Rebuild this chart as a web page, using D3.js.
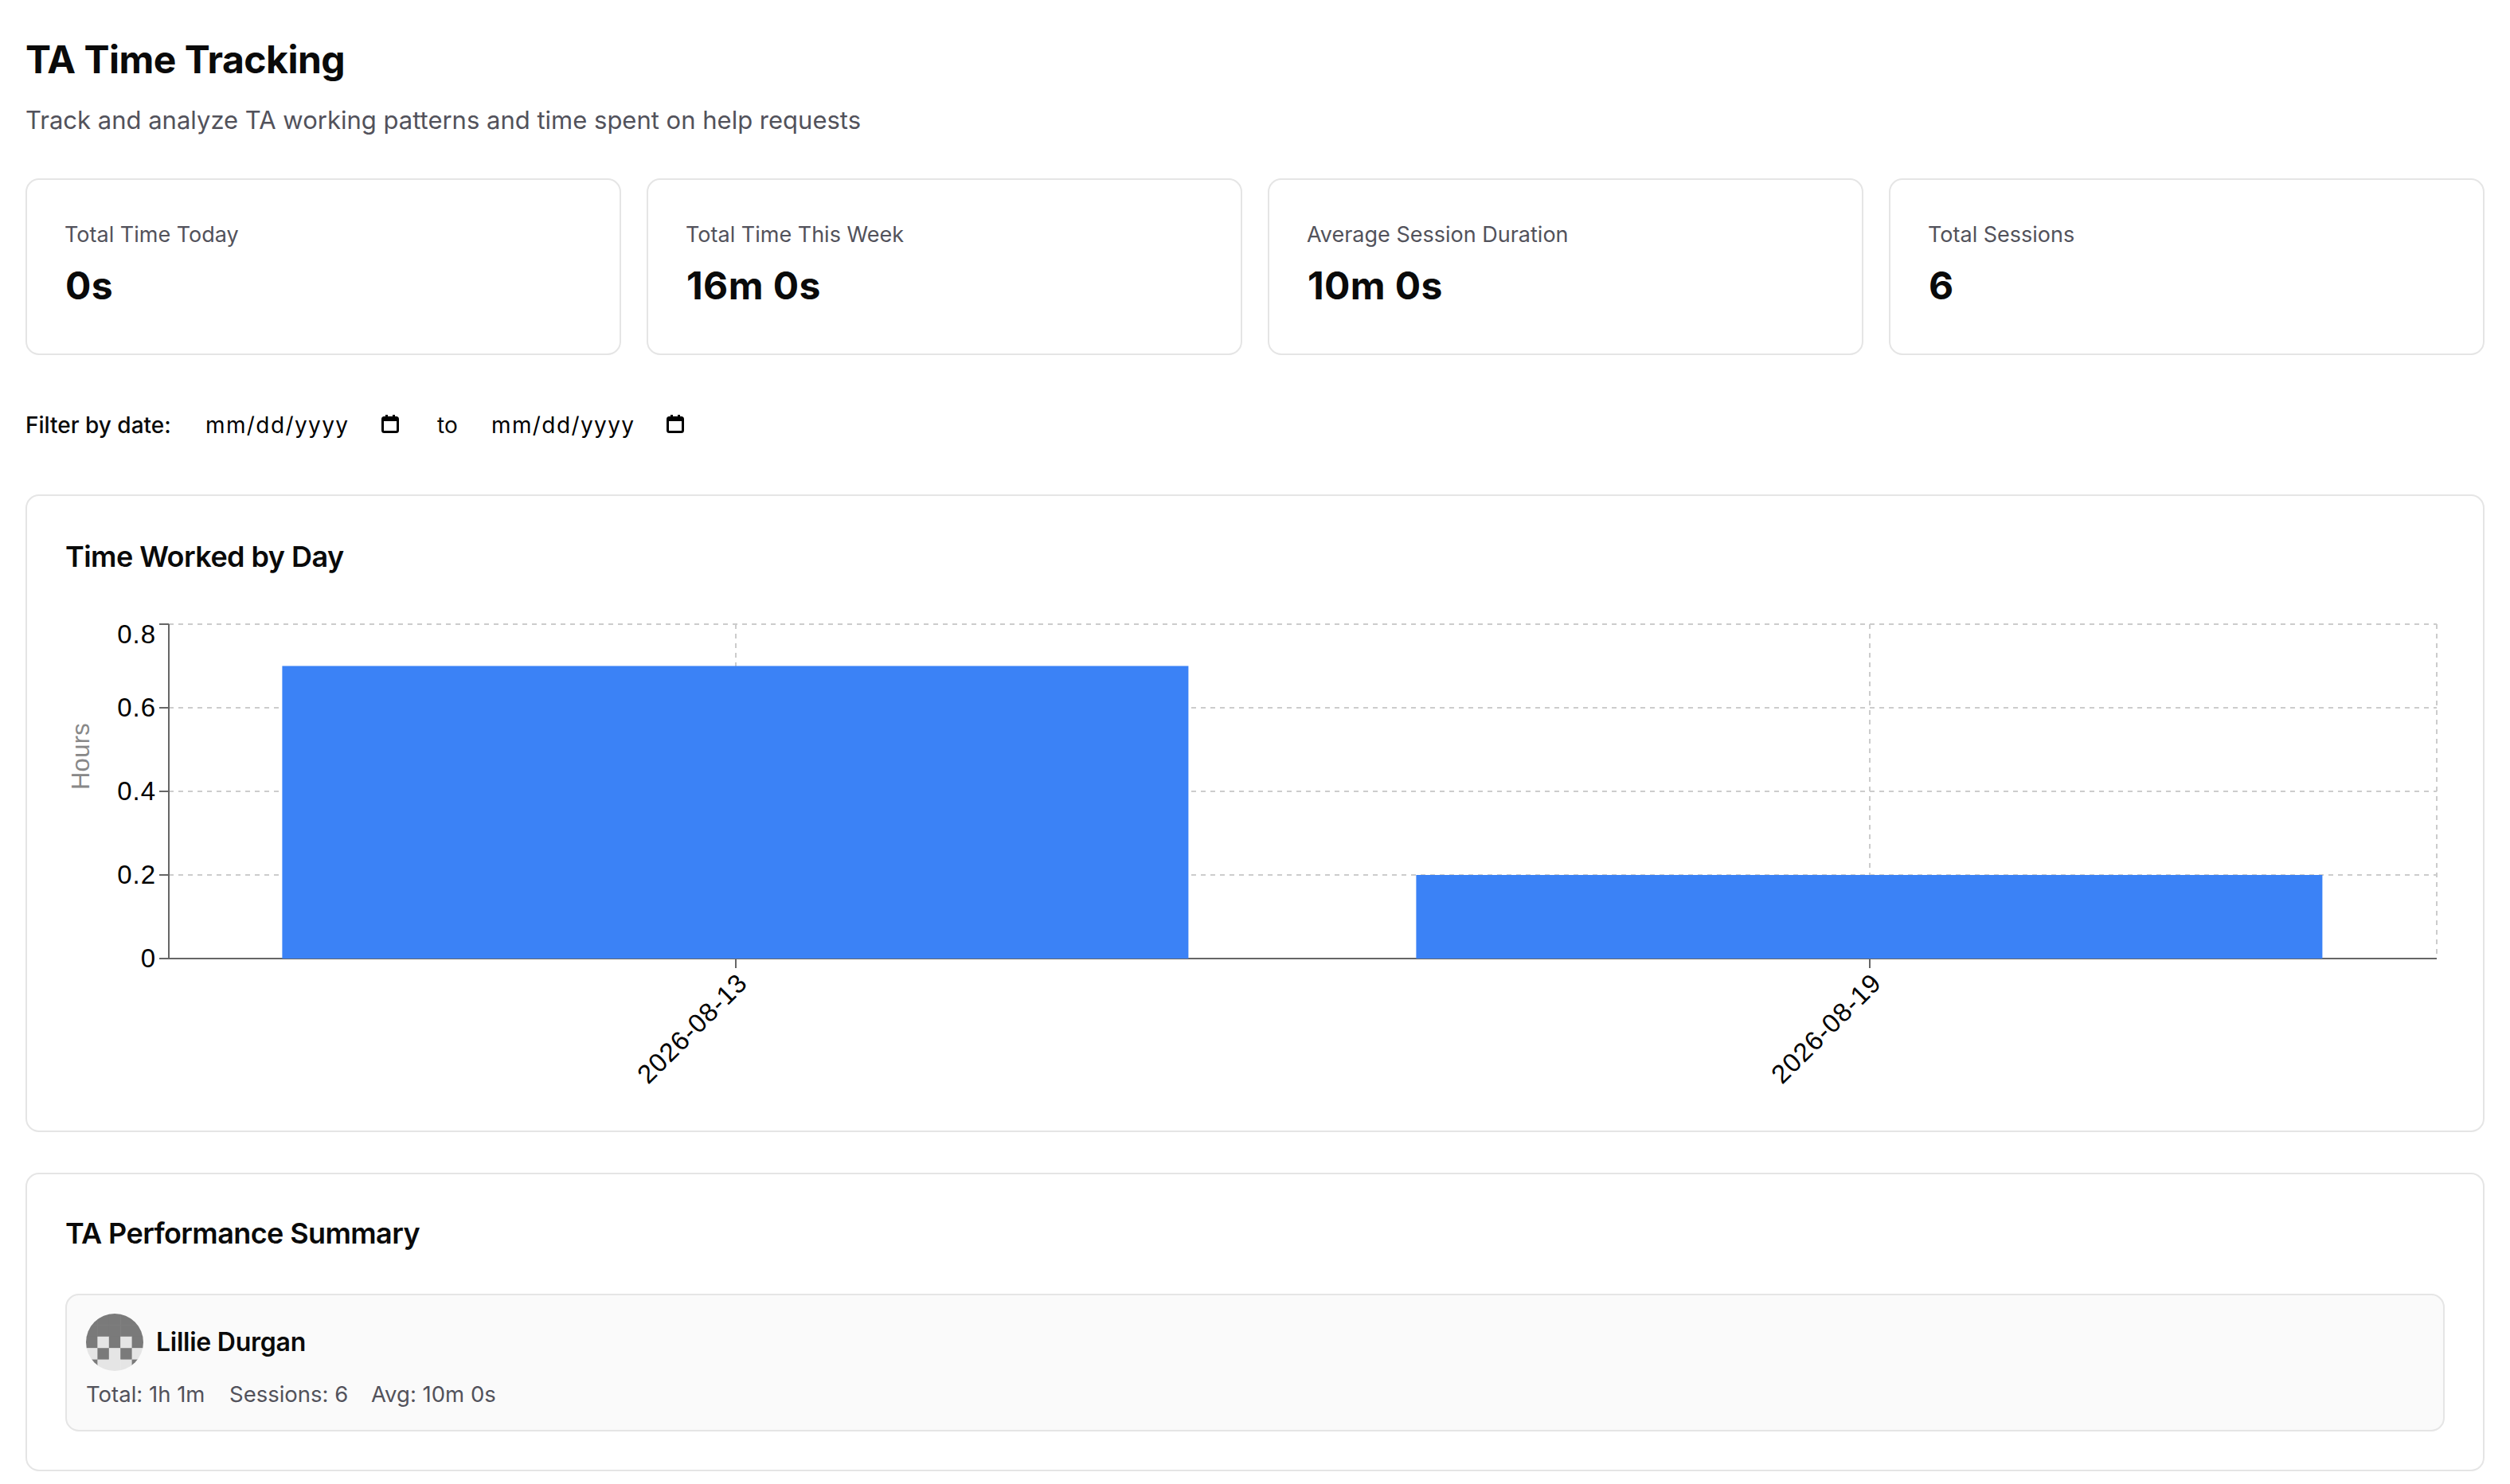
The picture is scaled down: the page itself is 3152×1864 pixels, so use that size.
<!DOCTYPE html>
<html>
<head>
<meta charset="utf-8">
<title>TA Time Tracking</title>
<script src="https://cdn.jsdelivr.net/npm/d3@7"></script>
<style>
  html, body { margin: 0; padding: 0; background: #fff; overflow: hidden; }
  svg { display: block; }
  text { font-family: Inter, sans-serif; }
  .grid line { stroke: #ccc; stroke-width: 2; stroke-dasharray: 6 6; }
  .axis path, .axis line { stroke: #666; stroke-width: 2; }
  .axis text { font-family: "Liberation Sans", sans-serif; font-size: 33px; letter-spacing: 1px; fill: #000; }
</style>
</head>
<body>
<svg id="page" width="3152" height="1864"></svg>
<script>
const days = ['2026-08-13', '2026-08-19'];
const hours = [0.7, 0.2];
const hourTicks = [0, 0.2, 0.4, 0.6, 0.8];

const cardLabels = ['Total Time Today', 'Total Time This Week', 'Average Session Duration', 'Total Sessions'];
const cardValues = ['0s', '16m 0s', '10m 0s', '6'];

const taStats = [
  { text: 'Total: 1h 1m', x: 108 },
  { text: 'Sessions: 6', x: 288 },
  { text: 'Avg: 10m 0s', x: 466 },
];
// identicon cells, 1 is the dark colour
const avatarCells = [
  [1, 1, 1, 1, 1],
  [1, 1, 1, 1, 1],
  [1, 0, 1, 0, 1],
  [0, 1, 0, 1, 0],
  [1, 0, 0, 0, 1],
];

const svg = d3.select('#page');

function panel(x, y, w, h, fill = '#fff', r = 16) {
  svg.append('rect')
    .attr('x', x + 1).attr('y', y + 1)
    .attr('width', w - 2).attr('height', h - 2)
    .attr('rx', r).attr('fill', fill)
    .attr('stroke', '#e5e5e5').attr('stroke-width', 2);
}

function label(str, x, y, size, weight, color = '#0a0a0a', spacing = 0) {
  return svg.append('text')
    .attr('x', x).attr('y', y)
    .attr('font-size', size).attr('font-weight', weight)
    .attr('fill', color)
    .attr('letter-spacing', spacing)
    .text(str);
}

function calendar(x, y) {
  const g = svg.append('g').attr('transform', `translate(${x},${y})`);
  g.append('rect').attr('x', 1.5).attr('y', 3.5).attr('width', 19).attr('height', 18).attr('rx', 2)
    .attr('fill', 'none').attr('stroke', '#000').attr('stroke-width', 3);
  g.append('rect').attr('x', 1).attr('y', 3).attr('width', 20).attr('height', 5).attr('fill', '#000');
  g.append('rect').attr('x', 5).attr('y', 0).attr('width', 3).attr('height', 4).attr('fill', '#000');
  g.append('rect').attr('x', 14).attr('y', 0).attr('width', 3).attr('height', 4).attr('fill', '#000');
}

// header
label('TA Time Tracking', 32, 92, 48, 700, '#0a0a0a', -0.5);
label('Track and analyze TA working patterns and time spent on help requests', 32, 162, 31, 400, '#52525b');

// stat cards
const cardX = d3.scaleBand().domain(d3.range(cardLabels.length)).range([32, 3120]).paddingInner(32 / 780);
cardLabels.forEach((c, i) => {
  const cx = cardX(i);
  panel(cx, 224, cardX.bandwidth(), 222);
  label(c, cx + 49, 304, 27, 400, '#52525b');
  label(cardValues[i], cx + 50, 376, 48, 700, '#0a0a0a', 0.4);
});

// date filter
label('Filter by date:', 32, 544, 28, 500);
label('mm/dd/yyyy', 258, 544, 28, 400, '#000', 1.4);
calendar(479, 521);
label('to', 549, 544, 28, 400);
label('mm/dd/yyyy', 617, 544, 28, 400, '#000', 1.4);
calendar(837, 521);

// chart card
panel(32, 621, 3088, 801);
label('Time Worked by Day', 82, 712, 36, 600, '#0a0a0a', -0.55);

const plotLeft = 212;
const plotRight = 3060;
const plotTop = 784;
const plotBottom = 1204;

const x = d3.scaleBand().domain(days).range([plotLeft, plotRight]).paddingInner(0.2).paddingOuter(0.1);
const y = d3.scaleLinear().domain([0, 0.8]).range([plotBottom, plotTop]);

const grid = svg.append('g').attr('class', 'grid');
grid.selectAll('.h')
  .data(hourTicks.slice(1))
  .join('line')
  .attr('class', 'h')
  .attr('x1', plotLeft).attr('x2', plotRight)
  .attr('y1', (d) => y(d)).attr('y2', (d) => y(d));
grid.selectAll('.v')
  .data(days)
  .join('line')
  .attr('class', 'v')
  .attr('x1', (d) => x(d) + x.bandwidth() / 2).attr('x2', (d) => x(d) + x.bandwidth() / 2)
  .attr('y1', plotTop).attr('y2', plotBottom);
grid.append('line').attr('x1', plotRight).attr('x2', plotRight).attr('y1', plotTop).attr('y2', plotBottom);

const yAxis = svg.append('g')
  .attr('class', 'axis')
  .attr('transform', `translate(${plotLeft},0)`)
  .call(d3.axisLeft(y).tickValues(hourTicks).tickSize(12).tickSizeOuter(0).tickPadding(4).offset(0)
    .tickFormat((d) => (d === 0 ? '0' : d3.format('.1f')(d))));
// top label sits below its tick so it stays inside the chart
yAxis.selectAll('.tick text').filter((d) => d === 0.8).attr('dy', '0.72em');

const xAxis = svg.append('g')
  .attr('class', 'axis')
  .attr('transform', `translate(0,${plotBottom})`)
  .call(d3.axisBottom(x).tickSize(12).tickSizeOuter(0).tickPadding(4).offset(0));
xAxis.selectAll('.tick text')
  .attr('text-anchor', 'end')
  .attr('dy', '0.71em')
  .attr('transform', 'rotate(-45 0 16)');

svg.append('text')
  .attr('transform', 'translate(112,950) rotate(-90)')
  .attr('text-anchor', 'middle')
  .attr('font-size', 31)
  .attr('letter-spacing', 0.3)
  .attr('fill', '#888')
  .style('font-family', '"Liberation Sans", sans-serif')
  .text('Hours');

// bar width is floored, so the right edge falls a little short of the band
const barWidth = Math.floor(x.bandwidth() / 2) * 2;
svg.append('g').selectAll('rect')
  .data(days)
  .join('rect')
  .attr('x', (d) => x(d))
  .attr('y', (d, i) => y(hours[i]))
  .attr('width', barWidth)
  .attr('height', (d, i) => plotBottom - y(hours[i]))
  .attr('fill', '#3b82f6');

// summary card
panel(32, 1473, 3088, 375);
label('TA Performance Summary', 82, 1562, 36, 600, '#0a0a0a', -0.6);
panel(82, 1625, 2988, 173, '#fafafa');

const avatar = svg.append('g');
svg.append('clipPath').attr('id', 'avatarClip')
  .append('circle').attr('cx', 144).attr('cy', 1686).attr('r', 36);
const cellX = d3.scaleBand().domain(d3.range(5)).range([108, 180]);
const cellY = d3.scaleBand().domain(d3.range(5)).range([1650, 1722]);
avatar.attr('clip-path', 'url(#avatarClip)')
  .selectAll('g')
  .data(avatarCells)
  .join('g')
  .attr('transform', (d, i) => `translate(0,${cellY(i)})`)
  .selectAll('rect')
  .data((d) => d)
  .join('rect')
  .attr('x', (d, i) => cellX(i))
  .attr('width', cellX.bandwidth() + 0.5)
  .attr('height', cellY.bandwidth() + 0.5)
  .attr('fill', (d) => (d ? '#7a7a7a' : '#e5e5e5'));

label('Lillie Durgan', 196, 1697, 32, 600, '#0a0a0a', -0.25);
taStats.forEach((s) => label(s.text, s.x, 1761, 27.5, 400, '#52525b'));
</script>
</body>
</html>
